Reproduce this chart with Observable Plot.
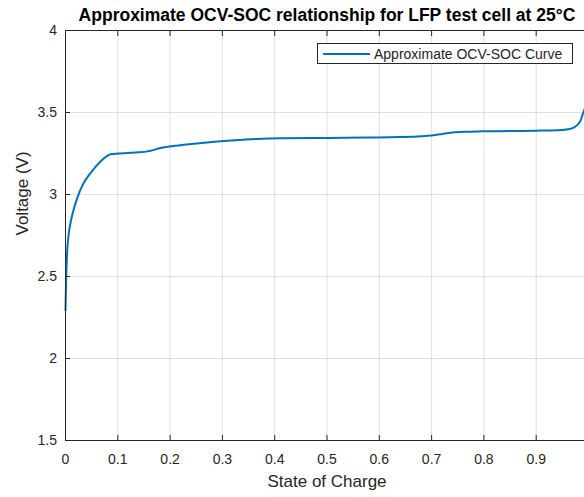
<!DOCTYPE html>
<html>
<head>
<meta charset="utf-8">
<script src="https://cdn.jsdelivr.net/npm/d3@7"></script>
<script src="https://cdn.jsdelivr.net/npm/@observablehq/plot@0.6"></script>
<style>
  html, body { margin: 0; padding: 0; background: white; }
  #wrap { position: relative; width: 584px; height: 497px; overflow: hidden; font-family: "Liberation Sans", Arial, sans-serif; }
  #legend { position: absolute; left: 317px; top: 43px; width: 256px; height: 21px; border: 1px solid #262626; background: white; box-sizing: border-box; }
  #legend .sw { position: absolute; left: 5px; top: 9px; width: 47px; height: 2px; background: #0072BD; }
  #legend .lb { position: absolute; left: 56px; top: 1px; font-size: 14px; color: #262626; white-space: nowrap; line-height: 18px; }
</style>
</head>
<body>
<div id="wrap"></div>
<script>
const titleText = "Approximate OCV-SOC relationship for LFP test cell at 25°C";
const xLabel = "State of Charge";
const yLabel = "Voltage (V)";
const legendLabel = "Approximate OCV-SOC Curve";

const socValues = [0, 0.001, 0.002, 0.003, 0.0055, 0.008, 0.012, 0.022, 0.034, 0.047, 0.066, 0.086, 0.1, 0.118, 0.14, 0.157, 0.182, 0.21, 0.246, 0.275, 0.302, 0.34, 0.375, 0.42, 0.5, 0.58, 0.64, 0.68, 0.70, 0.72, 0.736, 0.76, 0.797, 0.85, 0.90, 0.94, 0.966, 0.975, 0.985, 0.99, 0.995];
const voltageValues = [2.295, 2.45, 2.558, 2.64, 2.741, 2.80, 2.863, 2.975, 3.066, 3.127, 3.198, 3.245, 3.250, 3.253, 3.257, 3.263, 3.283, 3.297, 3.310, 3.319, 3.326, 3.334, 3.340, 3.343, 3.345, 3.347, 3.350, 3.355, 3.360, 3.369, 3.377, 3.382, 3.385, 3.387, 3.389, 3.392, 3.401, 3.415, 3.452, 3.50, 3.54];

const xTicks = [0, 0.1, 0.2, 0.3, 0.4, 0.5, 0.6, 0.7, 0.8, 0.9, 1];
const yTicks = [1.5, 2, 2.5, 3, 3.5, 4];

const data = socValues.map((s, i) => ({soc: s, v: voltageValues[i]}));
const ink = "#262626";

const chart = Plot.plot({
  width: 584,
  height: 497,
  marginTop: 30,
  marginLeft: 65,
  marginBottom: 57,
  marginRight: -4,
  style: {fontFamily: "'Liberation Sans', Arial, sans-serif", color: ink, background: "white", overflow: "visible"},
  x: {domain: [0, 1]},
  y: {domain: [1.5, 4]},
  marks: [
    Plot.gridX(xTicks, {stroke: ink, strokeOpacity: 0.15}),
    Plot.gridY(yTicks, {stroke: ink, strokeOpacity: 0.15}),
    Plot.line(data, {x: "soc", y: "v", stroke: "#0072BD", strokeWidth: 2, curve: "monotone-x"}),
    Plot.frame({stroke: ink}),
    Plot.axisX(xTicks, {anchor: "bottom", tickSize: -5, tickPadding: 19, tickFormat: d => String(d), fontSize: 14, label: null}),
    Plot.axisX(xTicks, {anchor: "top", tickSize: -5, tickFormat: () => "", label: null}),
    Plot.axisY(yTicks, {anchor: "left", tickSize: -5, tickPadding: 13.5, tickFormat: d => String(d), fontSize: 14, label: null}),
    Plot.text([xLabel], {text: d => d, frameAnchor: "bottom", dy: 41, lineAnchor: "middle", fontSize: 17, fill: ink}),
    Plot.text([yLabel], {text: d => d, frameAnchor: "left", dx: -43, rotate: -90, lineAnchor: "middle", fontSize: 17, fill: ink}),
    Plot.text([titleText], {text: d => d, frameAnchor: "top", dy: -15, lineAnchor: "middle", fontSize: 17.5, fontWeight: "bold", fill: "#000"})
  ]
});

const wrap = document.getElementById("wrap");
wrap.appendChild(chart);
const lg = document.createElement("div");
lg.id = "legend";
lg.innerHTML = `<div class="sw"></div><div class="lb"></div>`;
lg.querySelector(".lb").textContent = legendLabel;
wrap.appendChild(lg);
</script>
</body>
</html>
